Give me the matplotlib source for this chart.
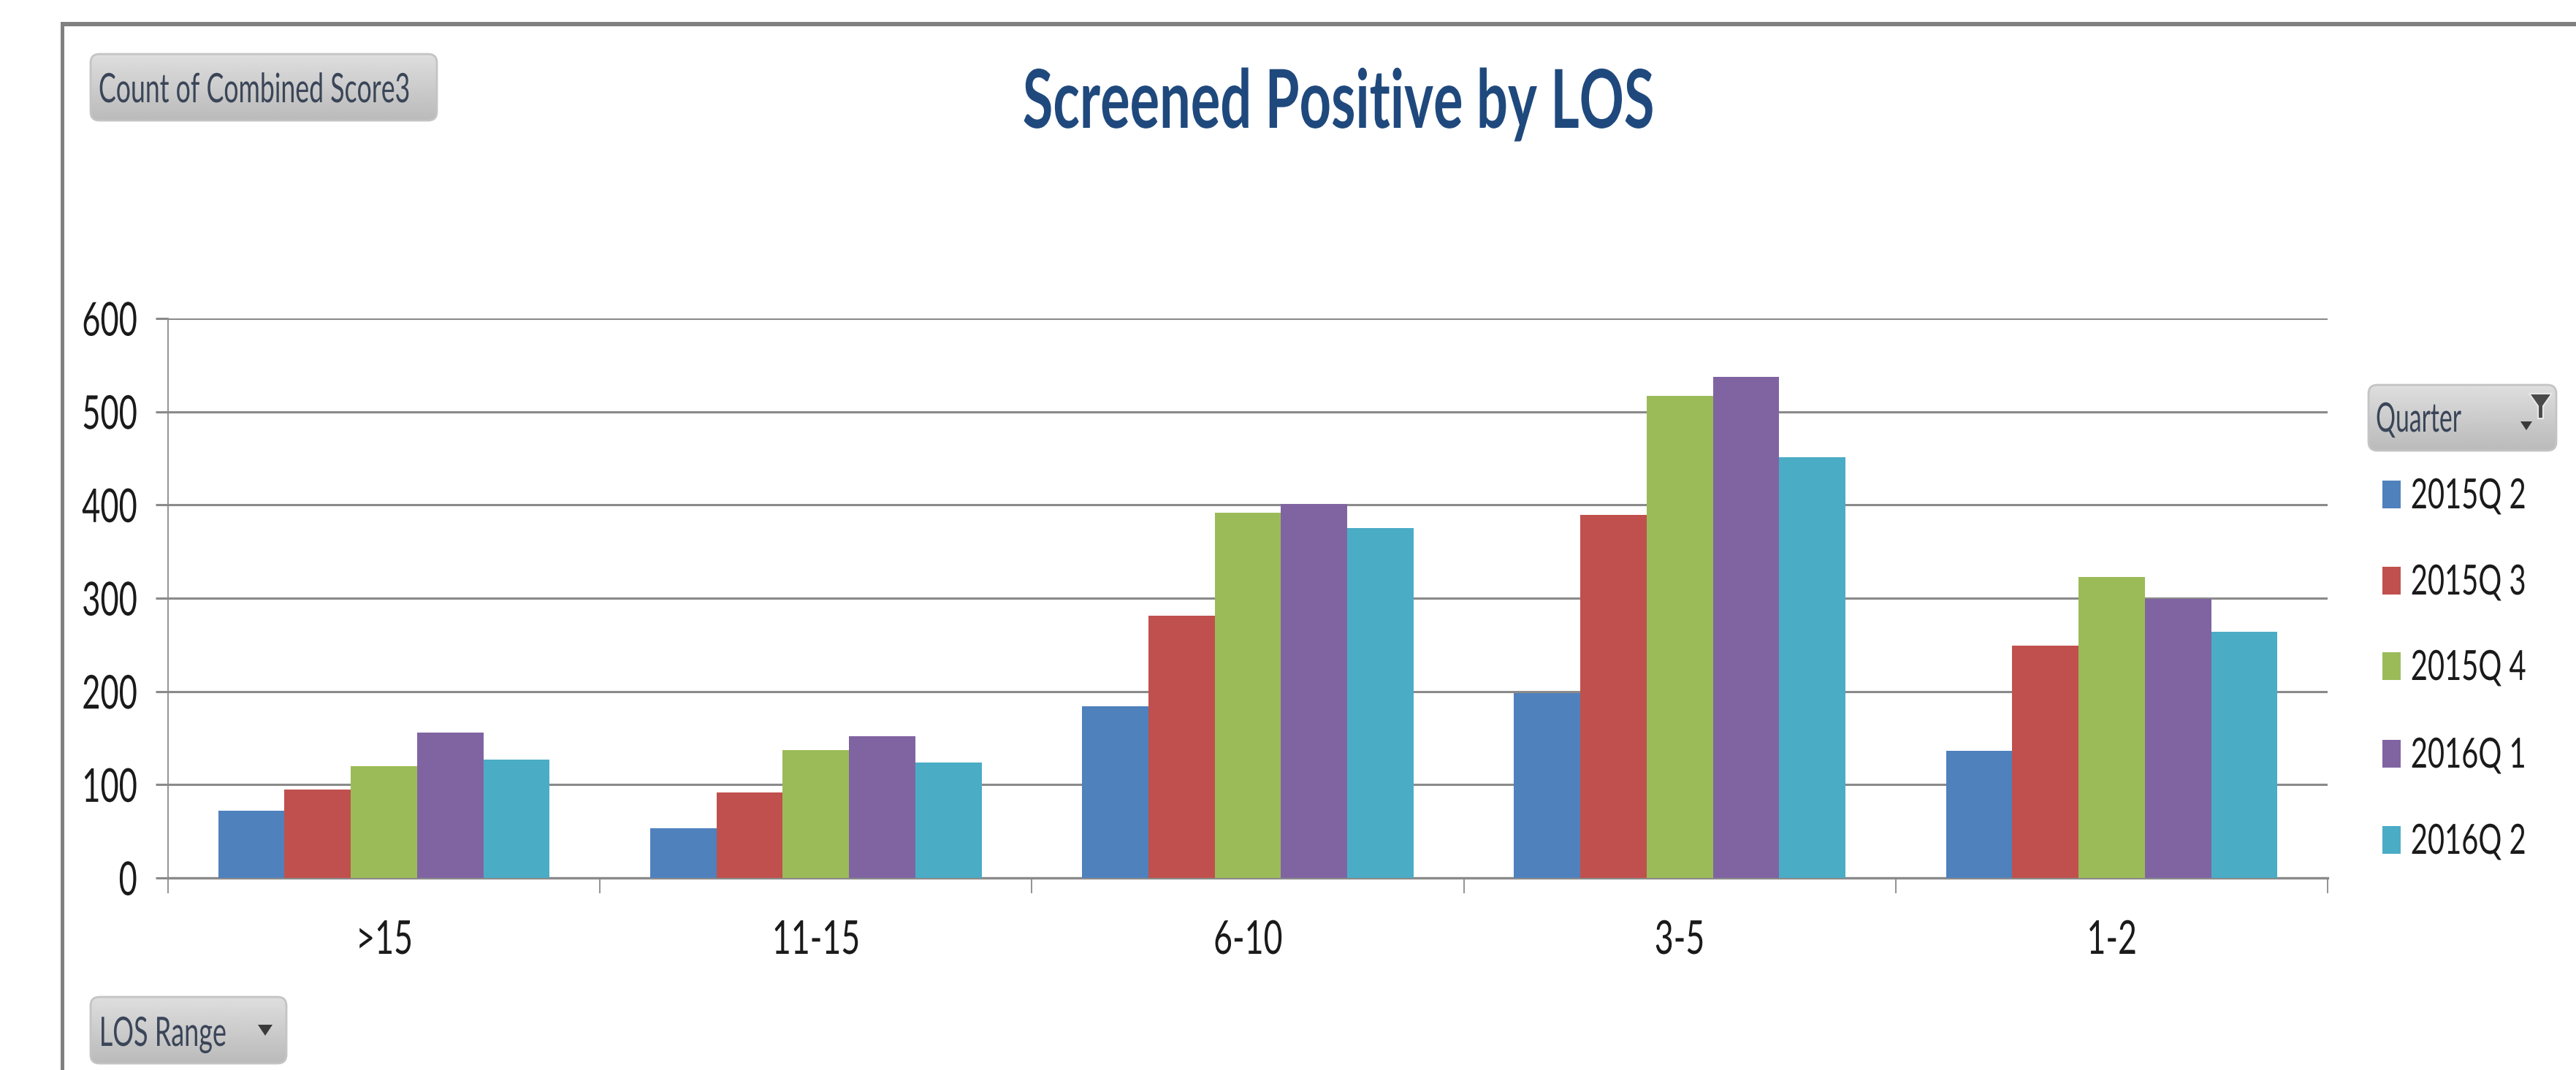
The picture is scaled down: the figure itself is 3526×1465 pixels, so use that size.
import numpy as np
import matplotlib
matplotlib.use('Agg')
import matplotlib.pyplot as plt
from matplotlib.patches import FancyBboxPatch, Rectangle, Polygon
from matplotlib.patheffects import AbstractPathEffect
from matplotlib.transforms import Affine2D

# chart values
categories = ['>15', '11-15', '6-10', '3-5', '1-2']
quarters = ['2015Q 2', '2015Q 3', '2015Q 4', '2016Q 1', '2016Q 2']
q2_2015 = [72, 53, 184, 198, 136]
q3_2015 = [95, 92, 281, 389, 249]
q4_2015 = [120, 137, 392, 517, 323]
q1_2016 = [156, 152, 401, 537, 299]
q2_2016 = [127, 124, 375, 451, 264]
colors = ['#4F81BD', '#C0504D', '#9BBB59', '#8064A2', '#4BACC6']
y_ticks = [0, 100, 200, 300, 400, 500, 600]

W, H = 3526, 1465
plt.rcParams['font.family'] = ['Lato', 'DejaVu Sans']

fig = plt.figure(figsize=(W / 100, H / 100), dpi=100, facecolor='white')
renderer = fig.canvas.get_renderer()


class Squeeze(AbstractPathEffect):
    # the reference is stretched, so text gets narrowed sideways around an anchor
    def __init__(self, sx, anchor='left'):
        super().__init__()
        self.sx = sx
        self.anchor = anchor

    def draw_path(self, renderer, gc, tpath, affine, rgbFace=None):
        box = tpath.get_extents(affine)
        ax_x = {'left': box.x0, 'center': (box.x0 + box.x1) / 2, 'right': box.x1}[self.anchor]
        squeezed = affine + Affine2D().translate(-ax_x, 0).scale(self.sx, 1).translate(ax_x, 0)
        renderer.draw_path(gc, tpath, squeezed, rgbFace)


def fit_width(txt, width, anchor='left'):
    txt.set_path_effects([Squeeze(width / txt.get_window_extent(renderer).width, anchor)])


# full figure overlay in pixel coordinates, for frame, buttons and legend
bg = fig.add_axes([0, 0, 1, 1], zorder=0)
bg.axis('off')

# frame of the chart area
bg.add_patch(Rectangle((83, 30), W - 83, 6, color='#808080', lw=0))
bg.add_patch(Rectangle((83, 30), 5, H - 30, color='#808080', lw=0))


def button(x0, y0, x1, y1, label, tx0, tx1, baseline):
    # grey gradient button with rounded corners
    patch = FancyBboxPatch((x0 + 12, y0 + 12), x1 - x0 - 24, y1 - y0 - 24,
                           boxstyle='round,pad=12,rounding_size=12',
                           fc='none', ec='#C4C4C4', lw=2, zorder=3)
    bg.add_patch(patch)
    grad = np.linspace(0.87, 0.73, 64).reshape(-1, 1)
    im = bg.imshow(grad, cmap='gray', vmin=0, vmax=1, aspect='auto',
                   extent=(x0, x1, y1, y0), zorder=2)
    im.set_clip_path(patch)
    txt = bg.text(tx0, baseline, label, fontsize=40, color='#3A4558',
                  va='baseline', ha='left', zorder=4)
    return txt, tx1 - tx0


button_texts = [
    button(124, 74, 598, 165, 'Count of Combined Score3', 134, 560, 140),
    button(124, 1365, 392, 1456, 'LOS Range', 134, 308, 1432),
    button(3242, 527, 3499, 617, 'Quarter', 3251, 3368, 591),
]
bg.set_xlim(0, W)
bg.set_ylim(H, 0)

# little dropdown arrows and the filter icon
bg.add_patch(Polygon([[353, 1403], [373, 1403], [363, 1418]], color='#3A3A3A', lw=0, zorder=5))
bg.add_patch(Polygon([[3450, 577], [3466, 577], [3458, 589]], color='#3A3A3A', lw=0, zorder=5))
bg.add_patch(Polygon([[3462, 539], [3493, 539], [3481, 556], [3481, 573], [3474, 573], [3474, 556]],
                     fc='#4A4A4A', ec='#E8E8E8', lw=1.5, zorder=5))

# title
title = bg.text(1399, 175, 'Screened Positive by LOS', fontsize=80, fontweight='bold',
                color='#1F497D', ha='left', va='baseline', zorder=4)

# legend
legend_y = [677, 795, 912, 1032, 1150]
legend_texts = []
for name, col, ly in zip(quarters, colors, legend_y):
    bg.add_patch(Rectangle((3261, ly - 19), 25, 38, color=col, lw=0, zorder=3))
    legend_texts.append(bg.text(3299, ly + 19, name, fontsize=41, color='#1A1A1A',
                                va='baseline', ha='left', zorder=4))

# main bar chart
x0, x1, y_top, y_bot = 230, 3186, 436, 1202
ax = fig.add_axes([x0 / W, 1 - y_bot / H, (x1 - x0) / W, (y_bot - y_top) / H], zorder=1)
ax.patch.set_alpha(0)

series = [q2_2015, q3_2015, q4_2015, q1_2016, q2_2016]
x = np.arange(len(categories))
bar_w = 0.1535
for i, (vals, col) in enumerate(zip(series, colors)):
    ax.bar(x + (i - 2) * bar_w, vals, width=bar_w, color=col, lw=0, zorder=3)

ax.set_xlim(-0.5, len(categories) - 0.5)
ax.set_ylim(0, 600)
ax.set_yticks(y_ticks)
ax.yaxis.grid(True, color='#8A8A8A', lw=2.2, zorder=1)
ax.set_axisbelow(True)
ax.set_xticks(np.arange(len(categories) + 1) - 0.5)
ax.set_xticklabels([])
ax.set_xticks(x, minor=True)
ax.set_xticklabels(categories, minor=True, fontsize=46, color='#1A1A1A')
ax.tick_params(axis='x', which='major', length=15, width=1.3, color='#8A8A8A')
ax.tick_params(axis='x', which='minor', length=0, pad=41)
ax.tick_params(axis='y', length=12, width=2.2, color='#8A8A8A', labelsize=46,
               labelcolor='#1A1A1A', pad=18)
for side in ['top', 'right']:
    ax.spines[side].set_visible(False)
ax.spines['left'].set_color('#8A8A8A')
ax.spines['left'].set_linewidth(1.3)
ax.spines['bottom'].set_color('#8A8A8A')
ax.spines['bottom'].set_linewidth(2.4)

# squeeze all the text to the widths seen in the picture
fit_width(title, 865)
for (txt, width) in button_texts:
    fit_width(txt, width)
for txt in legend_texts:
    fit_width(txt, 158)
for lab in ax.get_yticklabels():
    lab.set_path_effects([Squeeze(0.68, 'right')])
for lab in ax.get_xticklabels(minor=True):
    lab.set_path_effects([Squeeze(0.7, 'center')])

fig.savefig('out.png', dpi=100)
